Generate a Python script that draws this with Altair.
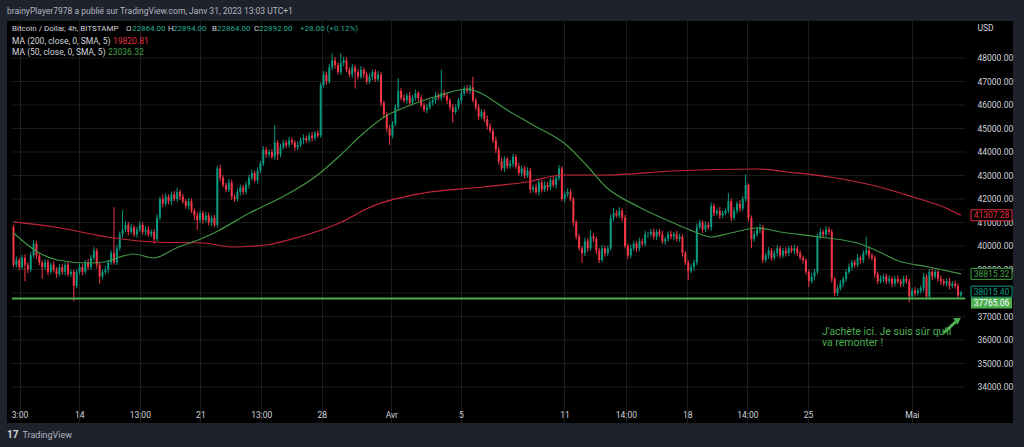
import altair as alt
import pandas as pd
import numpy as np

# ---------------- data ----------------
first_open = 40800
closes = [
    39200, 39400, 39100, 39500, 39200, 39000, 39600, 40100, 39600, 39300,
    39100, 39300, 38900, 39200, 39000, 38800, 39100, 38900, 39200, 38800,
    38900, 38300, 38900, 39100, 38900, 39300, 39100, 39500, 39800, 39200,
    38700, 38900, 39000, 39300, 39700, 39300, 39900, 40500, 40700, 40900,
    40600, 40800, 40500, 40700, 40900, 40600, 40700, 40500, 40600, 40300,
    41200, 42000, 41800, 42100, 41900, 42200, 42000, 42300, 42100, 41900,
    41700, 41900, 41500, 41300, 41100, 41400, 41100, 41300, 41000, 41200,
    40900, 43300, 42900, 42600, 42400, 42700, 42100, 42000, 42300, 42500,
    42300, 42600, 42900, 43100, 42800, 43200, 43500, 44100, 43900, 44000,
    43800, 44400, 43900, 44200, 44400, 44300, 44500, 44400, 44200, 44300,
    44500, 44600, 44500, 44700, 44600, 44800, 44700, 46850, 47300, 47000,
    47600, 47900, 47700, 47400, 47800, 47900, 47500, 47300, 47600, 47400,
    47200, 47500, 47300, 47000, 47200, 47400, 47100, 47300, 46100, 45600,
    45000, 44700, 45200, 45900, 46600, 46300, 46200, 46400, 46100, 46300,
    46500, 46300, 46000, 45800, 45900, 46100, 46200, 46400, 46300, 46500,
    46400, 46200, 45900, 45700, 45900, 46200, 46500, 46700, 46600, 46750,
    46200, 45900, 45500, 45700, 45400, 45100, 44900, 44500, 44100, 43600,
    43300, 43700, 43400, 43500, 43800, 43400, 43100, 43300, 43000, 43200,
    42400, 42500, 42300, 42700, 42400, 42600, 42500, 42800, 42600, 42900,
    43300, 42000, 42200, 42300, 42000, 41000, 40400, 39900, 39700, 40200,
    39900, 40400, 40300, 39800, 39400, 39900, 39700, 39900, 41200, 41400,
    41300, 41500, 41200, 40000, 39600, 39900, 40100, 39900, 40200, 40100,
    40500, 40500, 40600, 40400, 40600, 40500, 40200, 40300, 40500, 40400,
    40500, 40300, 40400, 39700, 39300, 38950, 39100, 39300, 40800, 41000,
    40700, 40900, 40800, 41700, 41400, 41500, 41300, 41400, 41500, 41900,
    41200, 41500, 41800, 41600, 42000, 42600, 41200, 40300, 40500, 40700,
    40800, 39400, 39600, 39800, 39500, 39700, 39900, 39600, 39800, 39700,
    39900, 39800, 39900, 39700, 39500, 39400, 38900, 38500, 38700, 38900,
    40400, 40600, 40500, 40700, 40600, 38600, 38000, 38200, 38400, 38600,
    38900, 39100, 39300, 39200, 39500, 39400, 39700, 39800, 39600, 39500,
    38800, 38500, 38600, 38700, 38500, 38600, 38400, 38600, 38500, 38400,
    38600, 38500, 37850, 38100, 38000, 38100, 38200, 38700, 37850, 38900,
    38700, 38900, 38600, 38500, 38400, 38500, 38300, 38400, 38300, 37900,
    38015.40,
]
upper_wick = [
    100, 150, 100, 120, 150, 100, 150, 150, 120, 100,
    100, 150, 120, 100, 150, 100, 120, 150, 100, 120,
    100, 80, 100, 150, 120, 100, 150, 120, 150, 100,
    120, 100, 150, 100, 120, 1950, 150, 120, 830, 150,
    120, 150, 100, 120, 150, 100, 150, 120, 100, 120,
    150, 100, 200, 150, 100, 120, 150, 180, 100, 120,
    100, 150, 120, 100, 150, 120, 100, 150, 120, 100,
    120, 100, 150, 120, 100, 150, 120, 100, 150, 120,
    100, 150, 120, 150, 100, 150, 120, 150, 120, 100,
    120, 750, 100, 150, 120, 100, 150, 120, 100, 150,
    120, 150, 100, 120, 150, 100, 120, 100, 150, 120,
    150, 300, 150, 120, 400, 150, 120, 100, 150, 100,
    120, 150, 100, 120, 150, 100, 120, 150, 100, 80,
    100, 150, 120, 150, 550, 120, 150, 100, 150, 120,
    150, 100, 120, 100, 150, 120, 100, 150, 120, 1000,
    150, 120, 100, 150, 120, 100, 150, 120, 150, 120,
    450, 100, 150, 120, 100, 150, 120, 100, 150, 120,
    150, 120, 100, 150, 120, 100, 150, 120, 100, 150,
    120, 100, 150, 120, 100, 150, 120, 100, 150, 120,
    150, 100, 120, 150, 100, 80, 100, 120, 100, 150,
    120, 280, 150, 100, 120, 150, 100, 120, 150, 220,
    120, 150, 100, 120, 100, 150, 120, 100, 150, 120,
    150, 100, 120, 150, 100, 120, 150, 100, 120, 150,
    100, 150, 120, 100, 80, 100, 150, 120, 150, 120,
    100, 150, 120, 150, 120, 100, 150, 120, 100, 350,
    120, 150, 100, 150, 120, 450, 60, 100, 150, 120,
    150, 100, 120, 150, 100, 120, 150, 100, 120, 150,
    100, 120, 150, 100, 120, 100, 80, 100, 150, 120,
    120, 150, 100, 150, 120, 100, 80, 120, 150, 100,
    120, 150, 100, 120, 150, 100, 120, 600, 150, 100,
    100, 120, 150, 100, 120, 150, 100, 120, 150, 100,
    120, 150, 100, 120, 150, 100, 120, 150, 100, 120,
    150, 100, 120, 150, 100, 120, 150, 100, 120, 100,
    80,
]
lower_wick = [
    100, 120, 150, 100, 700, 150, 120, 100, 150, 120,
    500, 120, 150, 100, 120, 150, 100, 120, 150, 100,
    120, 650, 100, 120, 150, 100, 120, 100, 120, 150,
    300, 120, 100, 150, 100, 100, 120, 100, 150, 120,
    150, 100, 120, 150, 100, 120, 150, 100, 120, 200,
    100, 120, 150, 100, 120, 150, 100, 120, 150, 100,
    120, 150, 100, 200, 420, 120, 150, 100, 120, 150,
    100, 120, 150, 100, 120, 100, 150, 120, 100, 150,
    120, 100, 150, 120, 100, 150, 120, 100, 150, 120,
    100, 150, 240, 120, 100, 150, 120, 100, 150, 120,
    100, 150, 120, 100, 150, 120, 100, 100, 120, 150,
    100, 120, 150, 100, 120, 150, 100, 120, 150, 700,
    120, 100, 150, 120, 100, 150, 120, 100, 150, 120,
    150, 400, 120, 100, 150, 120, 100, 150, 120, 100,
    120, 150, 100, 120, 150, 100, 120, 150, 100, 120,
    100, 150, 120, 450, 100, 120, 150, 100, 120, 150,
    100, 120, 150, 100, 120, 150, 100, 120, 150, 120,
    100, 150, 120, 100, 150, 120, 100, 150, 120, 100,
    150, 120, 100, 150, 120, 100, 150, 120, 100, 150,
    120, 100, 150, 120, 100, 150, 120, 100, 420, 120,
    150, 100, 120, 150, 120, 100, 150, 120, 100, 150,
    100, 120, 150, 100, 150, 120, 100, 150, 120, 100,
    120, 150, 100, 120, 150, 100, 120, 150, 100, 120,
    150, 100, 120, 150, 120, 400, 100, 150, 120, 100,
    150, 120, 100, 150, 120, 100, 150, 120, 100, 120,
    150, 100, 120, 150, 100, 120, 150, 400, 120, 100,
    150, 120, 100, 150, 120, 100, 150, 120, 100, 150,
    120, 100, 150, 120, 100, 150, 120, 250, 100, 150,
    100, 120, 150, 100, 120, 150, 150, 120, 100, 150,
    120, 100, 150, 120, 100, 150, 120, 100, 150, 120,
    150, 120, 100, 150, 120, 100, 150, 120, 100, 150,
    120, 100, 250, 120, 150, 100, 120, 150, 100, 120,
    150, 100, 120, 150, 100, 120, 150, 100, 120, 100,
    80,
]

ma200_idx = [0, 14.3, 35, 48.8, 66, 76.4, 87.8, 99.5, 114.3, 123.6, 142.9, 163.6,
             178.8, 191.2, 206.4, 229.1, 259.1, 269.5, 284.3, 301.6, 313.3, 324.7, 330]
ma200_val = [41030, 40809, 40340, 40170, 40128, 39957, 40043, 40383, 41021, 41617, 42255, 42511,
             42723, 43021, 43021, 43191, 43277, 43149, 42936, 42511, 42085, 41617, 41307.28]

ma50_idx = [0, 8.4, 15.3, 25.7, 31.6, 36, 41.9, 48.8, 56.7, 66, 70.5, 82.2, 93.6, 105,
            114.3, 121.2, 129.1, 138.4, 148.8, 158.1, 162.6, 171.9, 180.9, 192.6, 199.5,
            206.4, 217.8, 229.1, 237.4, 242.9, 249.8, 259.1, 267.1, 280.9, 296, 301.6,
            307.4, 318.8, 330]
ma50_val = [40553, 39745, 39404, 39277, 39319, 39489, 39660, 39489, 39915, 40340, 40596, 41404,
            42085, 42936, 43915, 44723, 45489, 46000, 46426, 46681, 46511, 45787, 45149, 44298,
            43447, 42511, 41660, 41021, 40596, 40383, 40553, 40766, 40596, 40383, 40043, 39745,
            39404, 39106, 38815.32]

support_level = 37765.06

tick_idx = [2.1, 22.9, 44.0, 65.1, 86.3, 107.4, 131.6, 155.8, 191.9, 213.3, 234.7, 255.6, 276.7, 312.9]
tick_labels = ["3:00", "14", "13:00", "21", "13:00", "28", "Avr", "5", "11", "14:00", "18", "14:00", "25", "Mai"]
# 38000 is fully hidden behind the price tags in the reference
price_ticks = [34000, 35000, 36000, 37000, 39000, 40000, 41000, 42000, 43000, 44000,
               45000, 46000, 47000, 48000]
grid_ticks = list(range(34000, 48001, 1000))

box_values = [41307.28, 38815.32, 38015.40]
box_labels = ["41307.28", "38815.32", "38015.40"]
box_colors = ["#e0323f", "#43a047", "#089981"]
box_shift_px = [0, 0, 1]

note_lines = ["J'achète ici. Je suis sûr qu'il", "va remonter !"]
note_idx = [281.6, 281.6]
note_price = [36360, 35870]
arrow_idx = [323.9, 329.0]
arrow_price = [36298, 36870]

# ---------------- styling ----------------
UP = "#089981"
DOWN = "#f23645"
MA200_C = "#c2253a"
MA50_C = "#3f9444"
LINE_G = "#4caf50"
TXT = "#d1d4dc"
FONT = "Roboto"
GRID = "#1c1c1c"

W, H = 1006, 402
X_MIN, X_MAX = -0.517, 346.38
Y_MIN, Y_MAX = 32468, 49574
PX = (Y_MAX - Y_MIN) / H

df = pd.DataFrame({"idx": np.arange(len(closes)), "close": closes,
                   "uw": upper_wick, "lw": lower_wick})
df["open"] = [first_open] + closes[:-1]
df["high"] = df[["open", "close"]].max(axis=1) + df["uw"]
df["low"] = df[["open", "close"]].min(axis=1) - df["lw"]
df["dir"] = np.where(df["close"] >= df["open"], "up", "down")

xs = alt.Scale(domain=[X_MIN, X_MAX], nice=False, zero=False)
ys = alt.Scale(domain=[Y_MIN, Y_MAX], nice=False, zero=False)
col = alt.Color("dir:N", scale=alt.Scale(domain=["up", "down"], range=[UP, DOWN]), legend=None)

label_expr = " : ".join(f"datum.value == {v} ? '{l}'" for v, l in zip(tick_idx, tick_labels)) + " : ''"

x_axis = alt.Axis(values=tick_idx, labelExpr=label_expr, orient="bottom", offset=-18,
                  ticks=False, domain=False, labelPadding=5, labelColor=TXT, labelFontSize=8.5,
                  labelFont=FONT, labelFlush=False, labelOverlap=False, grid=True,
                  gridColor=GRID, gridWidth=1, title="",
                  labelFontWeight=alt.ExprRef(expr="datum.label == 'Avr' || datum.label == 'Mai' ? 'bold' : 'normal'"))
y_axis = alt.Axis(values=price_ticks, format=".2f", orient="right", offset=-38, ticks=False,
                  domain=False, labelPadding=2, labelAlign="left", labelBaseline="middle",
                  labelColor=TXT, labelFontSize=8.5, labelFont=FONT, labelFlush=False,
                  labelOverlap=False, labelSeparation=0, grid=False,
                  title="USD", titleAngle=0, titleX=2, titleY=6, titleAlign="left",
                  titleBaseline="middle", titleColor=TXT, titleFontSize=8.5,
                  titleFontWeight="normal", titleFont=FONT)


def XQ(f):
    return alt.X(f, scale=xs, axis=x_axis)


def YQ(f):
    return alt.Y(f, scale=ys, axis=y_axis)


# horizontal grid lines at every 1000, stopping at the price scale
gdf = pd.DataFrame({"v": grid_ticks, "a": X_MIN, "b": len(closes) + 0.5})
hgrid = alt.Chart(gdf).mark_rule(color=GRID, strokeWidth=1).encode(
    x=XQ("a:Q"), x2="b:Q", y=YQ("v:Q"))

base = alt.Chart(df)
wicks = base.mark_rule(strokeWidth=1).encode(
    x=XQ("idx:Q"), y=YQ("low:Q"), y2="high:Q", color=col)
bodies = base.mark_bar(size=2).encode(
    x=XQ("idx:Q"), y=YQ("open:Q"), y2="close:Q", color=col)

ma200 = alt.Chart(pd.DataFrame({"idx": ma200_idx, "v": ma200_val})).mark_line(
    color=MA200_C, strokeWidth=1.2, interpolate="monotone").encode(x=XQ("idx:Q"), y=YQ("v:Q"))
ma50 = alt.Chart(pd.DataFrame({"idx": ma50_idx, "v": ma50_val})).mark_line(
    color=MA50_C, strokeWidth=1.2, interpolate="monotone").encode(x=XQ("idx:Q"), y=YQ("v:Q"))

hline = alt.Chart(pd.DataFrame({"a": [X_MIN], "b": [len(closes) + 0.5], "v": [support_level]})).mark_rule(
    color=LINE_G, strokeWidth=2).encode(x=XQ("a:Q"), x2="b:Q", y=YQ("v:Q"))

# price tags on the price scale (shifted a few pixels when they would collide, as TradingView does)
bdf = pd.DataFrame({"v": box_values, "t": box_labels, "c": box_colors, "s": box_shift_px})
bdf["mid"] = bdf["v"] + bdf["s"] * PX
bdf["lo"] = bdf["mid"] - 5.5 * PX
bdf["hi"] = bdf["mid"] + 5.5 * PX
boxes = alt.Chart(bdf).mark_rect(fill="#000000", strokeWidth=1).encode(
    x=alt.value(964), x2=alt.value(1005),
    y=YQ("lo:Q"), y2="hi:Q",
    stroke=alt.Color("c:N", scale=None))
box_txt = alt.Chart(bdf).mark_text(align="center", baseline="middle", fontSize=8.5, font=FONT).encode(
    x=alt.value(984.5), y=YQ("mid:Q"), text="t:N",
    color=alt.Color("c:N", scale=None))

sdf = pd.DataFrame({"v": [support_level], "t": [f"{support_level:.2f}"]})
sdf["mid"] = sdf["v"] - 4.5 * PX
sdf["lo"] = sdf["mid"] - 5.5 * PX
sdf["hi"] = sdf["mid"] + 5.5 * PX
sbox = alt.Chart(sdf).mark_rect(fill=LINE_G).encode(
    x=alt.value(964), x2=alt.value(1005), y=YQ("lo:Q"), y2="hi:Q")
stxt = alt.Chart(sdf).mark_text(align="center", baseline="middle", fontSize=8.5, font=FONT,
                                color="#ffffff").encode(
    x=alt.value(984.5), y=YQ("mid:Q"), text="t:N")

ndf = pd.DataFrame({"idx": note_idx, "v": note_price, "t": note_lines})
note = alt.Chart(ndf).mark_text(align="left", baseline="middle", fontSize=10.5, font=FONT,
                                color=LINE_G).encode(x=XQ("idx:Q"), y=YQ("v:Q"), text="t:N")

adf = pd.DataFrame({"idx": arrow_idx, "v": arrow_price})
arrow_shaft = alt.Chart(adf).mark_line(color=LINE_G, strokeWidth=3).encode(x=XQ("idx:Q"), y=YQ("v:Q"))
arrow_head = alt.Chart(adf.tail(1)).mark_point(shape="triangle-up", angle=55, filled=True,
                                               size=60, color=LINE_G, opacity=1).encode(
    x=XQ("idx:Q"), y=YQ("v:Q"))


def txt(s, px, py, color, size=8, weight="normal"):
    return alt.Chart(pd.DataFrame({"t": [s]})).mark_text(
        align="left", baseline="middle", fontSize=size, font=FONT, fontWeight=weight,
        color=color).encode(x=alt.value(px), y=alt.value(py), text="t:N")


VAL = "#22ab94"
texts = [
    txt("brainyPlayer7978 a publié sur TradingView.com, Janv 31, 2023 13:03 UTC+1", 0, -10, "#b2b5be", size=8.5),
    txt("Bitcoin / Dollar, 4h, BITSTAMP", 5, 8.3, TXT),
    txt("O", 119, 8.3, TXT), txt("22864.00", 125, 8.3, VAL),
    txt("H", 161, 8.3, TXT), txt("22894.00", 166, 8.3, VAL),
    txt("B", 205, 8.3, TXT), txt("22864.00", 210, 8.3, VAL),
    txt("C", 247, 8.3, TXT), txt("22892.00", 252, 8.3, VAL),
    txt("+28.00 (+0.12%)", 293, 8.3, VAL),
    txt("MA (200, close, 0, SMA, 5)", 5, 19.7, TXT, size=8.5), txt("19820.81", 106, 19.7, "#e0323f", size=8.5),
    txt("MA (50, close, 0, SMA, 5)", 5, 30.7, TXT, size=8.5), txt("23036.32", 101, 30.7, "#43a047", size=8.5),
    txt("17", 0, 414, "#d1d4dc", size=10, weight="bold"),
    txt("TradingView", 15.5, 414, "#b2b5be", size=9),
]

chart = alt.layer(
    hgrid, wicks, bodies, ma200, ma50, hline, boxes, box_txt, sbox, stxt,
    note, arrow_shaft, arrow_head, *texts
).properties(
    width=W, height=H,
    padding={"left": 7, "top": 21, "right": 11, "bottom": 24},
    autosize=alt.AutoSizeParams(type="none"),
    background="#1e222d",
).configure_view(fill="#000000", strokeWidth=0)

chart.save("out.html", embed_options={"renderer": "svg", "actions": False})
